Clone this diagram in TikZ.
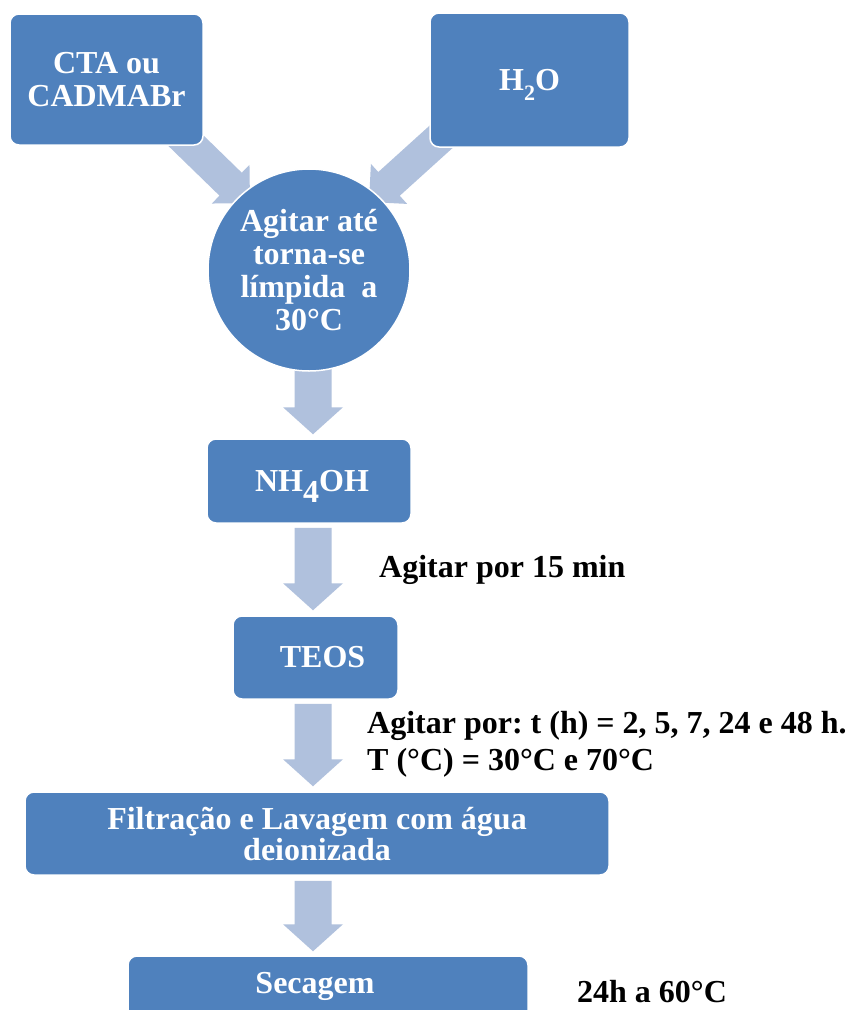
\documentclass[tikz,border=0pt]{standalone}
\usepackage{fontspec}
\setmainfont{Liberation Serif}
\usetikzlibrary{calc,backgrounds}
\frenchspacing

\definecolor{boxblue}{HTML}{4F81BD}
\definecolor{arrowblue}{HTML}{B0C1DD}

% Block arrow: #1 tail, #2 tip, #3 shaft half-width, #4 head half-width, #5 head length
\newcommand\blockarrow[5]{%
  \coordinate (ba-base) at ($(#2)!#5!(#1)$);
  \fill[arrowblue]
    ($(#1)!#3!90:(#2)$) -- ($(ba-base)!#3!90:(#2)$) -- ($(ba-base)!#4!90:(#2)$)
    -- (#2)
    -- ($(ba-base)!#4!-90:(#2)$) -- ($(ba-base)!#3!-90:(#2)$) -- ($(#1)!#3!-90:(#2)$)
    -- cycle;}

\begin{document}
\begin{tikzpicture}[x=1pt,y=-1pt,
  stepbox/.style={draw=white, line width=1.5pt, fill=boxblue, rounded corners=9pt,
    text=white, font=\bfseries\fontsize{32}{33}\selectfont, align=center, inner sep=0pt},
  mixcircle/.style={circle, draw=white, line width=1.5pt, fill=boxblue, text=white,
    font=\bfseries\fontsize{32}{32.7}\selectfont, align=center, inner sep=0pt, minimum size=202pt},
  note/.style={font=\bfseries\fontsize{32}{32}\selectfont, text=black, inner sep=0pt, anchor=base west}]
\useasboundingbox (0,0) rectangle (851,1010);
\clip (0,0) rectangle (851,1010);

% reagents and process steps
\node[stepbox, minimum width=193pt, minimum height=131pt] (cta) at (106.5,79.5) {CTA ou\\CADMABr};
\node[stepbox, minimum width=199pt, minimum height=134pt] (h2o) at (529.5,80)
  {H\raisebox{-10pt}[0pt][0pt]{\fontsize{22}{22}\selectfont 2}O};
\node[mixcircle] (circ) at (309,270) {Agitar até\\torna-se\\límpida~~a\\30°C};
\node[stepbox, minimum width=204pt, minimum height=84pt] (nh) at (309,481)
  {\hspace*{6pt}NH\raisebox{-11pt}[0pt][0pt]{4}OH};
\node[stepbox, minimum width=165pt, minimum height=83pt] (teos) at (315.5,657.5)
  {\hspace*{14pt}TEOS};
\node[stepbox, minimum width=584pt, minimum height=83pt, font=\bfseries\fontsize{32}{31}\selectfont]
  (filt) at (317,833.5) {Filtração e Lavagem com água\\deionizada};
\node[stepbox, minimum width=400pt, minimum height=64pt, text height=21.6pt, text depth=10pt]
  (sec) at (328,988) {Secagem\hspace*{26pt}};

% conditions
\node[note] (stir15) at (379,577) {Agitar por 15 min};
\node[note] (stirt) at (367,733) {Agitar por: t (h) = 2, 5, 7, 24 e 48 h.};
\node[note] (stirT) at (367,770) {T (°C) = 30°C e 70°C};
\node[note] (dry) at (577,1002) {24h a 60°C};

% arrows behind the shapes
\coordinate (ax) at (313,0);
\begin{pgfonlayer}{background}
  \fill[white] (0,0) rectangle (851,1010);
  \coordinate (ltail) at ([shift={(-63,-49)}]cta.south east);
  \coordinate (ltip) at ([shift={(-59,-67)}]circ.center);
  \coordinate (rtail) at ([shift={(13,-12)}]h2o.south west);
  \coordinate (rtip) at ([shift={(60,-68)}]circ.center);
  \blockarrow{ltail}{ltip}{16pt}{27pt}{27pt}
  \blockarrow{rtail}{rtip}{16pt}{27pt}{27pt}
  \coordinate (a1t) at (circ.center -| ax);
  \coordinate (a1h) at ($(nh.north -| ax)+(0,-4)$);
  \coordinate (a2t) at ($(nh.south -| ax)+(0,4)$);
  \coordinate (a2h) at ($(teos.north -| ax)+(0,-5)$);
  \coordinate (a3t) at ($(teos.south -| ax)+(0,4)$);
  \coordinate (a3h) at ($(filt.north -| ax)+(0,-5)$);
  \coordinate (a4t) at ($(filt.south -| ax)+(0,5)$);
  \coordinate (a4h) at ($(sec.north -| ax)+(0,-4)$);
  \blockarrow{a1t}{a1h}{18.5pt}{30pt}{27pt}
  \blockarrow{a2t}{a2h}{18.5pt}{30pt}{27pt}
  \blockarrow{a3t}{a3h}{18.5pt}{30pt}{27pt}
  \blockarrow{a4t}{a4h}{18.5pt}{30pt}{27pt}
\end{pgfonlayer}
\end{tikzpicture}
\end{document}
